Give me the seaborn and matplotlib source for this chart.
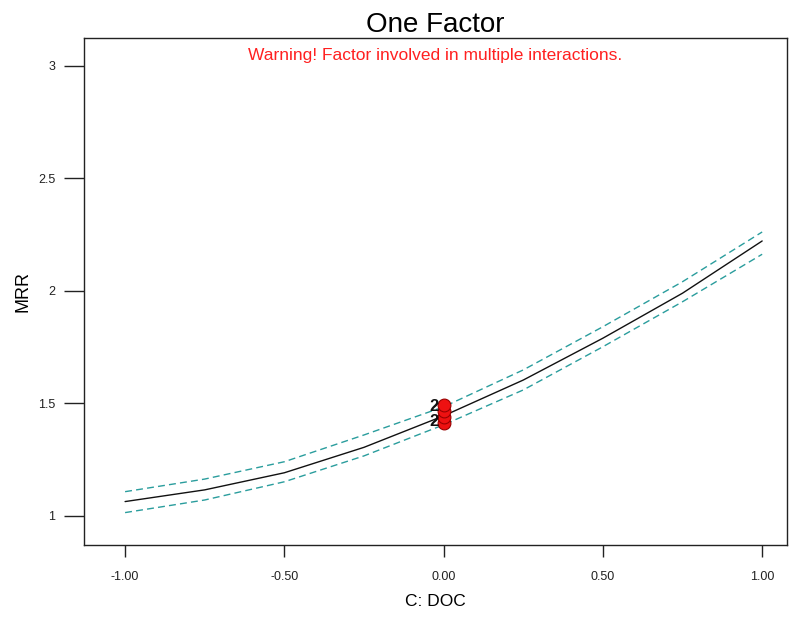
import numpy as np
import pandas as pd
import matplotlib
matplotlib.use("Agg")
import matplotlib.pyplot as plt
import seaborn as sns

# values
doc = [-1.0, -0.75, -0.5, -0.25, 0.0, 0.25, 0.5, 0.75, 1.0]
mrr_pred = [1.064, 1.116, 1.192, 1.305, 1.445, 1.604, 1.790, 1.990, 2.222]
mrr_upper = [1.108, 1.164, 1.241, 1.360, 1.485, 1.649, 1.841, 2.041, 2.262]
mrr_lower = [1.015, 1.071, 1.152, 1.267, 1.405, 1.560, 1.752, 1.952, 2.163]

design_doc = [0.0, 0.0, 0.0, 0.0]
design_mrr = [1.413, 1.440, 1.467, 1.493]
rep_labels = ["2", "2"]
rep_mrr = [1.485, 1.418]

x_ticks = [-1.0, -0.5, 0.0, 0.5, 1.0]
y_ticks = [1, 1.5, 2, 2.5, 3]

sns.set_style("white")
plt.rcParams['font.family'] = ['Liberation Sans', 'DejaVu Sans']
plt.rcParams['text.color'] = 'black'
plt.rcParams['axes.labelcolor'] = 'black'

df = pd.DataFrame({"doc": doc, "pred": mrr_pred, "upper": mrr_upper, "lower": mrr_lower})
pts = pd.DataFrame({"doc": design_doc, "mrr": design_mrr})

fig = plt.figure(figsize=(7.92, 6.17), dpi=100)
ax = fig.add_axes([84 / 792, 1 - 545 / 617, (787 - 84) / 792, (545 - 38) / 617])

band_color = "#2a9d9d"
sns.lineplot(data=df, x="doc", y="upper", color=band_color, lw=1, ax=ax)
sns.lineplot(data=df, x="doc", y="lower", color=band_color, lw=1, ax=ax)
for ln in ax.lines:
    ln.set_dashes([5, 3])
sns.lineplot(data=df, x="doc", y="pred", color="#111111", lw=1, ax=ax)
sns.scatterplot(data=pts, x="doc", y="mrr", color="#ee1111", edgecolor="#990000",
                s=85, linewidth=0.8, zorder=5, ax=ax)
for lab, yv in zip(rep_labels, rep_mrr):
    ax.text(-0.016, yv, lab, ha="right", va="center", fontsize=12,
            fontweight="bold", color="#111111", zorder=6)

ax.set_xlim(-1.129, 1.078)
ax.set_ylim(0.871, 3.124)
ax.set_xticks(x_ticks)
ax.set_xticklabels([f"{v:.2f}" for v in x_ticks])
ax.set_yticks(y_ticks)
ax.set_yticklabels(["1", "1.5", "2", "2.5", "3"])
ax.tick_params(axis="x", bottom=True, length=8.5, width=1, pad=10, labelsize=9, colors="#222222")
ax.tick_params(axis="y", left=True, length=14.5, width=1, pad=6, labelsize=9, colors="#222222")
for sp in ax.spines.values():
    sp.set_color("#222222")
    sp.set_linewidth(1)

ax.set_xlabel("C: DOC", fontsize=12.5, labelpad=8)
ax.set_ylabel("MRR", fontsize=13, labelpad=5)
ax.set_title("One Factor", fontsize=20, pad=4, color="black")
ax.text(0.5, 0.965, "Warning! Factor involved in multiple interactions.",
        transform=ax.transAxes, ha="center", va="center", color="#ff2020", fontsize=12.5)

fig.savefig("out.png", dpi=100)
